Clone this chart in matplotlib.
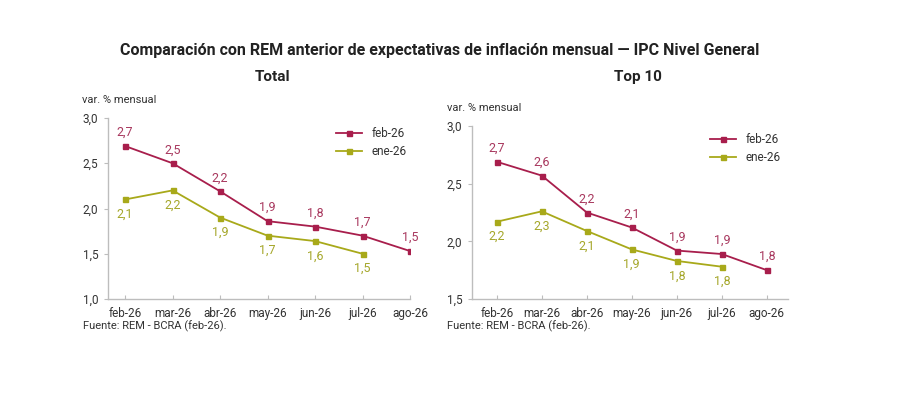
import numpy as np
import matplotlib
matplotlib.use("Agg")
import matplotlib.pyplot as plt
from matplotlib.ticker import FuncFormatter

plt.rcParams['font.family'] = ['Roboto', 'DejaVu Sans']

months = ['feb-26', 'mar-26', 'abr-26', 'may-26', 'jun-26', 'jul-26', 'ago-26']

# Total
total_feb = [2.69, 2.50, 2.19, 1.86, 1.80, 1.70, 1.53]
total_feb_lbl = ['2,7', '2,5', '2,2', '1,9', '1,8', '1,7', '1,5']
total_ene = [2.10, 2.20, 1.90, 1.70, 1.64, 1.50]
total_ene_lbl = ['2,1', '2,2', '1,9', '1,7', '1,6', '1,5']

# Top 10
top_feb = [2.69, 2.57, 2.25, 2.12, 1.92, 1.89, 1.75]
top_feb_lbl = ['2,7', '2,6', '2,2', '2,1', '1,9', '1,9', '1,8']
top_ene = [2.17, 2.26, 2.09, 1.93, 1.83, 1.78]
top_ene_lbl = ['2,2', '2,3', '2,1', '1,9', '1,8', '1,8']

c_feb = '#A81E4C'
c_ene = '#A8A91A'
c_feb_txt = '#A8385E'
c_ene_txt = '#A5A72A'
grey = '#BDBDBD'
txt = '#333333'

fig = plt.figure(figsize=(9, 3.99), dpi=100)


def draw_panel(rect, feb, feb_lbl, ene, ene_lbl, ylim, yticks, xlim, leg_anchor):
    ax = fig.add_axes(rect)
    x = np.arange(len(months))
    ax.plot(x[:len(feb)], feb, color=c_feb, lw=1.3, marker='s', ms=3.6, label='feb-26')
    ax.plot(x[:len(ene)], ene, color=c_ene, lw=1.3, marker='s', ms=3.6, label='ene-26')
    for xi, v, l in zip(x, feb, feb_lbl):
        ax.annotate(l, (xi, v), xytext=(0, 5), textcoords='offset points',
                    ha='center', va='bottom', fontsize=9, color=c_feb_txt)
    for xi, v, l in zip(x, ene, ene_lbl):
        ax.annotate(l, (xi, v), xytext=(0, -6), textcoords='offset points',
                    ha='center', va='top', fontsize=9, color=c_ene_txt)
    ax.set_xlim(*xlim)
    ax.set_ylim(*ylim)
    ax.set_yticks(yticks)
    ax.yaxis.set_major_formatter(FuncFormatter(lambda v, p: f'{v:.1f}'.replace('.', ',')))
    ax.set_xticks(x)
    ax.set_xticklabels(months)
    for s in ['top', 'right']:
        ax.spines[s].set_visible(False)
    for s in ['left', 'bottom']:
        ax.spines[s].set_color(grey)
        ax.spines[s].set_linewidth(1.0)
    ax.tick_params(axis='x', direction='in', length=3, color=grey, labelsize=8.5,
                   labelcolor=txt, pad=6)
    ax.tick_params(axis='y', direction='out', length=3, color=grey, labelsize=8.5,
                   labelcolor=txt, pad=4)
    ax.legend(loc='upper left', bbox_to_anchor=leg_anchor, frameon=False, fontsize=8.5,
              handlelength=2.2, labelspacing=0.45, handletextpad=0.8,
              labelcolor=txt)
    return ax


ax1 = draw_panel([108 / 900, 100 / 399, 302 / 900, 181 / 399],
                 total_feb, total_feb_lbl, total_ene, total_ene_lbl,
                 (1.0, 3.0), [1.0, 1.5, 2.0, 2.5, 3.0], (-0.36, 6.0),
                 (0.72, 1.01))
ax2 = draw_panel([472 / 900, 100 / 399, 316 / 900, 173 / 399],
                 top_feb, top_feb_lbl, top_ene, top_ene_lbl,
                 (1.5, 3.0), [1.5, 2.0, 2.5, 3.0], (-0.55, 6.47),
                 (0.72, 1.02))

fig.text(440 / 900, 1 - 50 / 399, 'Comparación con REM anterior de expectativas de inflación mensual — IPC Nivel General',
         ha='center', va='center', fontsize=11.5, fontweight='bold', color='#222222')
fig.text(273 / 900, 1 - 77 / 399, 'Total', ha='center', va='center', fontsize=11,
         fontweight='bold', color='#222222')
fig.text(638 / 900, 1 - 77 / 399, 'Top 10', ha='center', va='center', fontsize=11,
         fontweight='bold', color='#222222')

fig.text(82 / 900, 1 - 100 / 399, 'var. % mensual', ha='left', va='center', fontsize=8, color=txt)
fig.text(447 / 900, 1 - 108 / 399, 'var. % mensual', ha='left', va='center', fontsize=8, color=txt)
fig.text(83 / 900, 1 - 326 / 399, 'Fuente: REM - BCRA (feb-26).', ha='left', va='center', fontsize=8, color=txt)
fig.text(447 / 900, 1 - 326 / 399, 'Fuente: REM - BCRA (feb-26).', ha='left', va='center', fontsize=8, color=txt)

fig.savefig('out.png', dpi=100, facecolor='white')
